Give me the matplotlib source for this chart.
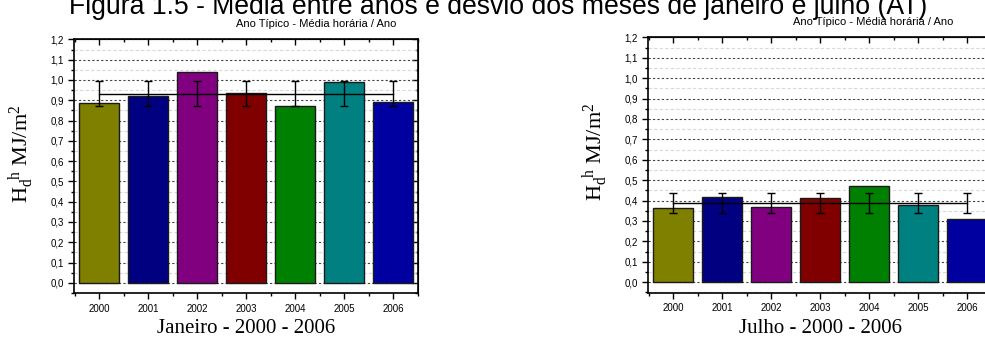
import matplotlib
matplotlib.use('Agg')
import matplotlib.pyplot as plt
from matplotlib.ticker import MultipleLocator, FuncFormatter

plt.rcParams['font.family'] = ['Liberation Sans', 'DejaVu Sans']
plt.rcParams['mathtext.fontset'] = 'custom'
plt.rcParams['mathtext.rm'] = 'Liberation Serif'
plt.rcParams['mathtext.it'] = 'Liberation Serif:italic'

years = [2000, 2001, 2002, 2003, 2004, 2005, 2006]
bar_colors = ['#808000', '#000080', '#800080', '#800000', '#008000', '#008080', '#0000a0']

jan_values = [0.885, 0.921, 1.039, 0.938, 0.870, 0.988, 0.893]
jan_mean = 0.933
jan_dev = 0.062

jul_values = [0.364, 0.415, 0.370, 0.410, 0.469, 0.377, 0.310]
jul_mean = 0.388
jul_dev = 0.049

title = 'Figura 1.5 - Média entre anos e desvio dos meses de janeiro e julho (AT)'
subtitle = 'Ano Típico - Média horária / Ano'
ylabel = r'$\mathrm{H_d^{\ \ h}\ MJ/m^{2}}$'


def comma(v, pos):
    return ('%.1f' % v).replace('.', ',')


def draw_panel(ax, values, mean, dev, xlabel):
    ax.set_axisbelow(True)
    ax.bar(years, values, width=0.81, color=bar_colors, edgecolor='#1a1a1a', linewidth=1.0, zorder=2)
    ax.plot([years[0], years[-1]], [mean, mean], color='black', linewidth=1.0, zorder=3)
    ax.errorbar(years, [mean] * len(years), yerr=dev, fmt='none', ecolor='black',
                elinewidth=1.0, capsize=3, capthick=1.0, zorder=4)
    ax.set_xlim(1999.49, 2006.51)
    ax.set_ylim(-0.052, 1.2)
    ax.set_xticks(years)
    ax.set_xticklabels([str(y) for y in years])
    ax.xaxis.set_minor_locator(MultipleLocator(0.5))
    ax.yaxis.set_major_locator(MultipleLocator(0.1))
    ax.yaxis.set_minor_locator(MultipleLocator(0.05))
    ax.yaxis.set_major_formatter(FuncFormatter(comma))
    ax.grid(axis='y', which='major', color='#444444', linestyle=(0, (2, 2)), linewidth=0.8)
    ax.grid(axis='y', which='minor', color='#d8d8d8', linestyle=(0, (3, 2)), linewidth=0.8)
    ax.tick_params(which='both', direction='out', labelsize=7, width=1.0, colors='black')
    ax.tick_params(which='major', length=4)
    ax.tick_params(which='minor', length=2)
    for s in ax.spines.values():
        s.set_linewidth(1.2)
    top = ax.secondary_xaxis('top')
    top.set_xticks(years)
    top.xaxis.set_minor_locator(MultipleLocator(0.5))
    top.tick_params(which='both', direction='in', labeltop=False, width=1.0)
    top.tick_params(which='major', length=4)
    top.tick_params(which='minor', length=2)
    right = ax.secondary_yaxis('right')
    right.yaxis.set_major_locator(MultipleLocator(0.1))
    right.yaxis.set_minor_locator(MultipleLocator(0.05))
    right.tick_params(which='both', direction='in', labelright=False, width=1.0)
    right.tick_params(which='major', length=4)
    right.tick_params(which='minor', length=2)
    ax.set_xlabel(xlabel, fontsize=15, family='Liberation Serif', labelpad=4)
    ax.set_ylabel(ylabel, fontsize=16)
    ax.yaxis.set_label_coords(-0.108, 0.55)


fig = plt.figure(figsize=(9.85, 3.38), dpi=100)
ax1 = fig.add_axes([0.0754, 0.132, 0.3492, 0.7515])
ax2 = fig.add_axes([0.6582, 0.134, 0.3492, 0.7556])

draw_panel(ax1, jan_values, jan_mean, jan_dev, 'Janeiro - 2000 - 2006')
draw_panel(ax2, jul_values, jul_mean, jul_dev, 'Julho - 2000 - 2006')

fig.text(0.506, 1 - 14.5 / 338, title, ha='center', va='baseline', fontsize=19.2)
fig.text(236 / 985, 1 - 27 / 338, subtitle, ha='left', va='baseline', fontsize=8)
fig.text(793 / 985, 1 - 25 / 338, subtitle, ha='left', va='baseline', fontsize=8)

fig.savefig('out.png', dpi=100)
